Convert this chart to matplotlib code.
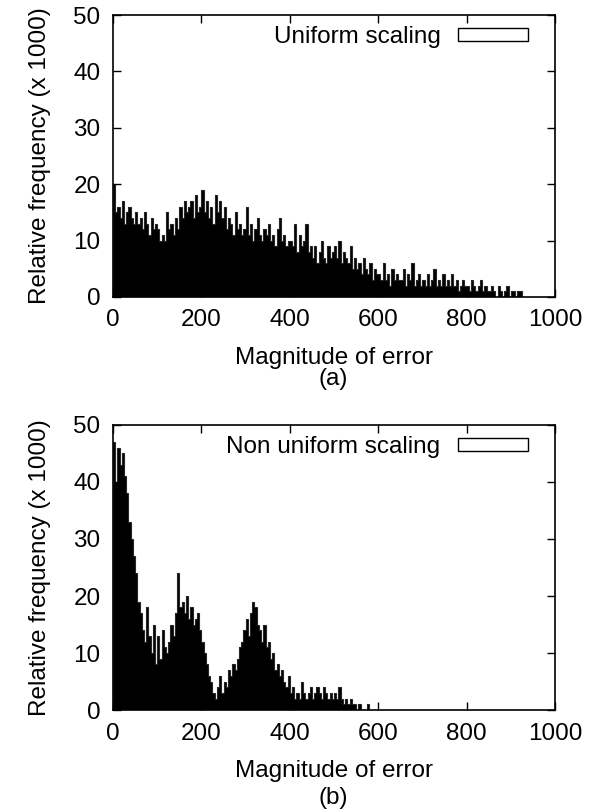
import matplotlib
matplotlib.use('Agg')
import matplotlib.pyplot as plt
from matplotlib.patches import Patch
import numpy as np

plt.rcParams['font.family'] = ['Liberation Sans', 'DejaVu Sans']

BIN = 5  # bin width (magnitude units)

# relative frequency (x 1000), bins of 5 starting at 0
uniform = [
    20, 15, 16, 14, 17, 13, 15, 16, 14, 13,
    15, 13, 14, 12, 15, 13, 11, 14, 12, 13,
    12, 10, 11, 10, 15, 12, 13, 11, 14, 12,
    16, 14, 17, 15, 16, 17, 14, 18, 15, 16,
    19, 15, 17, 14, 16, 13, 18, 15, 17, 14,
    16, 12, 14, 13, 11, 15, 12, 13, 11, 12,
    16, 11, 13, 10, 12, 14, 11, 10, 12, 11,
    13, 10, 11, 9, 12, 14, 10, 11, 9, 10,
    10, 9, 13, 8, 11, 9, 10, 13, 8, 9,
    7, 9, 6, 8, 10, 7, 6, 9, 7, 8,
    9, 7, 10, 6, 8, 7, 6, 9, 5, 7,
    5, 6, 4, 7, 5, 4, 6, 3, 5, 4,
    4, 3, 6, 3, 4, 2, 5, 3, 4, 3,
    3, 5, 2, 4, 3, 6, 2, 3, 4, 2,
    3, 2, 4, 2, 3, 5, 2, 3, 2, 4,
    2, 3, 2, 4, 2, 3, 1, 2, 3, 2,
    2, 1, 3, 2, 1, 2, 3, 1, 2, 1,
    1, 2, 1, 0, 2, 1, 0, 1, 2, 0,
    1, 1, 0, 1, 1, 0,
]

non_uniform = [
    47, 40, 46, 43, 45, 41, 38, 33, 30, 27,
    24, 19, 17, 14, 12, 18, 13, 10, 15, 8,
    13, 9, 14, 11, 10, 12, 15, 13, 17, 24,
    18, 19, 17, 20, 16, 18, 15, 16, 17, 14,
    12, 10, 8, 6, 5, 3, 2, 4, 6, 3,
    5, 4, 7, 6, 8, 7, 9, 11, 12, 14,
    16, 13, 17, 19, 18, 15, 14, 12, 15, 11,
    12, 9, 10, 7, 8, 6, 7, 5, 4, 6,
    3, 4, 2, 3, 2, 5, 3, 2, 3, 4,
    2, 3, 4, 3, 2, 4, 3, 2, 3, 2,
    3, 2, 4, 2, 1, 2, 1, 2, 1, 1,
    0, 1, 0, 0, 0, 1, 0, 0, 0, 0,
]

panels = [
    (uniform, 'Uniform scaling', '(a)'),
    (non_uniform, 'Non uniform scaling', '(b)'),
]

fig = plt.figure(figsize=(5.93, 8.11), dpi=100)
ax_top = fig.add_axes([0.1906, 0.6338, 0.7454, 0.3477])
ax_bot = fig.add_axes([0.1906, 0.1245, 0.7454, 0.3515])

fs = 17.5
for ax, (vals, name, tag) in zip([ax_top, ax_bot], panels):
    edges = np.arange(len(vals) + 1) * BIN
    ax.stairs(vals, edges, fill=True, color='black', linewidth=0)
    ax.stairs(vals, edges, color='#262626', linewidth=0.8)
    ax.set_xlim(0, 1000)
    ax.set_ylim(0, 50)
    ax.set_xticks(range(0, 1001, 200))
    ax.set_yticks(range(0, 51, 10))
    ax.tick_params(direction='in', top=True, right=True, length=6,
                   width=1, labelsize=fs, pad=9)
    for s in ax.spines.values():
        s.set_linewidth(1.2)
    ax.set_xlabel('Magnitude of error', fontsize=fs, labelpad=11)
    ax.set_ylabel('Relative frequency (x 1000)', fontsize=fs, labelpad=16)
    handle = Patch(facecolor='white', edgecolor='black', linewidth=1)
    ax.legend([handle], [name], loc='upper right', frameon=False,
              markerfirst=False, fontsize=fs, handlelength=2.9,
              handleheight=0.45, handletextpad=0.7,
              borderaxespad=0.2, bbox_to_anchor=(0.972, 1.012))

fig.text(0.5624, 1 - 379 / 811, '(a)', ha='center', va='center', fontsize=fs)
fig.text(0.5624, 1 - 798 / 811, '(b)', ha='center', va='center', fontsize=fs)

fig.savefig('out.png', dpi=100)
